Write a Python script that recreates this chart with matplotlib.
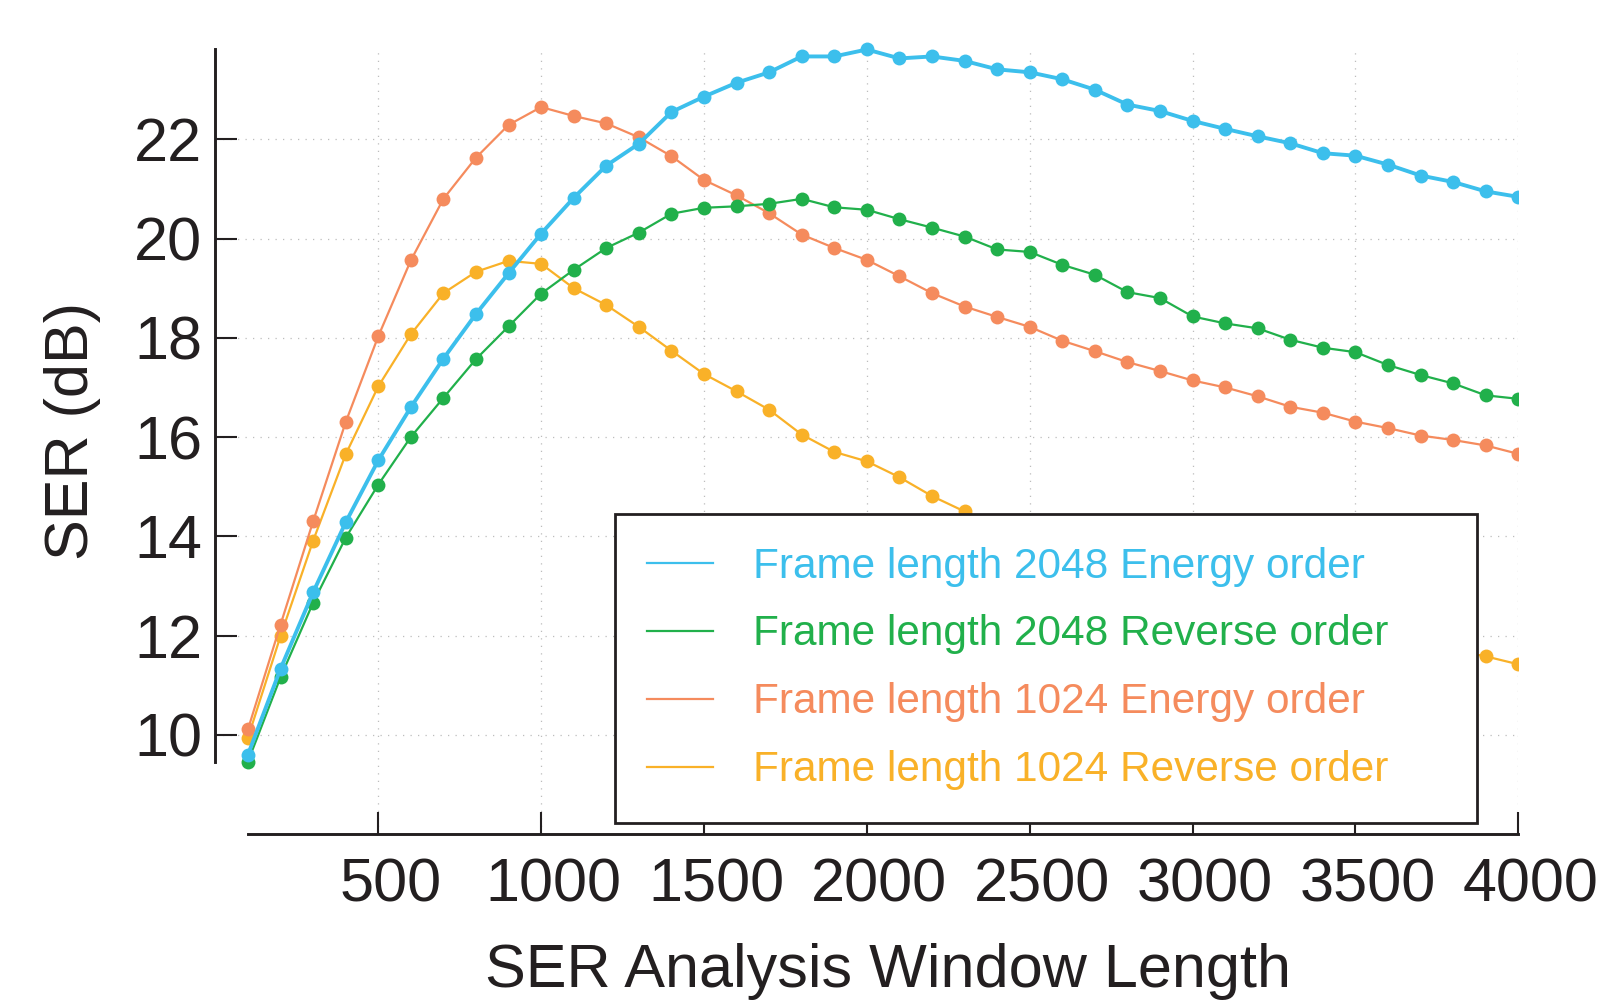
import numpy as np
import matplotlib
matplotlib.use("Agg")
import matplotlib.pyplot as plt
from matplotlib.patches import Rectangle
from matplotlib.transforms import ScaledTranslation

plt.rcParams['font.family'] = ['Liberation Sans', 'DejaVu Sans']

# data
window_len = list(range(100, 4100, 100))

fl2048_energy = [9.60, 11.33, 12.87, 14.28, 15.53, 16.60, 17.58, 18.48, 19.30, 20.10,
                 20.82, 21.47, 21.91, 22.55, 22.86, 23.14, 23.35, 23.67, 23.67, 23.81,
                 23.63, 23.67, 23.58, 23.41, 23.35, 23.21, 23.00, 22.70, 22.57, 22.37,
                 22.21, 22.06, 21.92, 21.72, 21.67, 21.49, 21.27, 21.14, 20.95, 20.84]
fl2048_reverse = [9.46, 11.16, 12.66, 13.97, 15.04, 16.00, 16.79, 17.57, 18.23, 18.89,
                  19.37, 19.81, 20.12, 20.50, 20.62, 20.65, 20.70, 20.80, 20.63, 20.58,
                  20.39, 20.22, 20.04, 19.78, 19.73, 19.47, 19.27, 18.92, 18.80, 18.43,
                  18.29, 18.19, 17.96, 17.80, 17.71, 17.45, 17.25, 17.08, 16.84, 16.77]
fl1024_energy = [10.11, 12.22, 14.30, 16.30, 18.03, 19.56, 20.80, 21.63, 22.29, 22.65,
                 22.47, 22.32, 22.04, 21.66, 21.18, 20.87, 20.51, 20.08, 19.81, 19.57,
                 19.24, 18.90, 18.63, 18.42, 18.22, 17.94, 17.73, 17.51, 17.33, 17.14,
                 17.00, 16.82, 16.61, 16.49, 16.31, 16.18, 16.03, 15.94, 15.83, 15.66]
fl1024_reverse = [9.94, 11.99, 13.91, 15.65, 17.02, 18.07, 18.90, 19.33, 19.55, 19.49,
                  19.00, 18.66, 18.22, 17.74, 17.27, 16.92, 16.55, 16.05, 15.70, 15.51,
                  15.19, 14.81, 14.50, 14.20, 13.95, 13.70, 13.50, 13.30, 13.10, 12.90,
                  12.70, 12.55, 12.40, 12.25, 12.10, 11.95, 11.80, 11.70, 11.58, 11.42]

labels = ["Frame length 2048 Energy order", "Frame length 2048 Reverse order",
          "Frame length 1024 Energy order", "Frame length 1024 Reverse order"]
series = [fl2048_energy, fl2048_reverse, fl1024_energy, fl1024_reverse]
colors = ['#3cbfec', '#21b04b', '#f58b5d', '#f9b128']
widths = [2.8, 1.6, 1.6, 1.6]

xticks = [500, 1000, 1500, 2000, 2500, 3000, 3500, 4000]
yticks = [10, 12, 14, 16, 18, 20, 22]

dark = '#231f20'

fig = plt.figure(figsize=(16.03, 10.01), dpi=100)
ax = fig.add_axes([0.13437, 0.16683, 0.81281, 0.78422])

clip = Rectangle((0, 0), 1, 1.1, transform=ax.transAxes)

# draw back to front, blue ends on top
handles = [None] * 4
for i in [3, 2, 1, 0]:
    ln, = ax.plot(window_len, series[i], color=colors[i], lw=widths[i],
                  marker='o', ms=10, mec='none', label=labels[i], zorder=3 + (3 - i))
    ln.set_clip_path(clip)
    handles[i] = ln

allv = np.concatenate([np.array(s) for s in series])
ax.set_xlim(0, 4000)
ax.set_ylim(8, allv.max() + 0.01)

# range frame
for s in ['top', 'right']:
    ax.spines[s].set_visible(False)
ax.spines['left'].set_bounds(allv.min(), allv.max())
ax.spines['bottom'].set_bounds(window_len[0], window_len[-1])
for s in ['left', 'bottom']:
    ax.spines[s].set_linewidth(2.1)
    ax.spines[s].set_color(dark)

ax.set_xticks(xticks)
ax.set_yticks(yticks)
ax.tick_params(axis='both', direction='in', length=15.5, width=1.5, color=dark,
               labelsize=44, labelcolor=dark)
ax.tick_params(axis='y', pad=9.5)
ax.tick_params(axis='x', pad=17)
off = ScaledTranslation(0.12, 0, fig.dpi_scale_trans)
for lab in ax.get_xticklabels():
    lab.set_transform(lab.get_transform() + off)

ax.grid(True, color='#bdbdbd', lw=0.9, linestyle=(0, (1, 5)))
ax.set_axisbelow(True)

ax.set_xlabel("SER Analysis Window Length", fontsize=44, color=dark)
ax.set_ylabel("SER (dB)", fontsize=44, color=dark)
ax.xaxis.set_label_coords(0.516, -0.139)
ax.yaxis.set_label_coords(-0.088, 0.513)

leg = ax.legend(handles=handles, loc='upper left', mode='expand',
                bbox_to_anchor=(0.3837, 0.0, 0.538, 0.4862),
                bbox_transform=fig.transFigure, borderaxespad=0,
                fontsize=30.5, labelcolor='linecolor', frameon=True, fancybox=False,
                handlelength=1.55, handletextpad=0.95, borderpad=0.76,
                labelspacing=0.66, markerscale=0)
leg.get_frame().set_edgecolor(dark)
leg.get_frame().set_linewidth(2.0)
leg.get_frame().set_facecolor('white')
leg.get_frame().set_alpha(1)
leg.set_zorder(20)
for l in leg.get_lines():
    l.set_linewidth(1.6)
    l.set_marker('')

plt.savefig("out.png", dpi=100)
